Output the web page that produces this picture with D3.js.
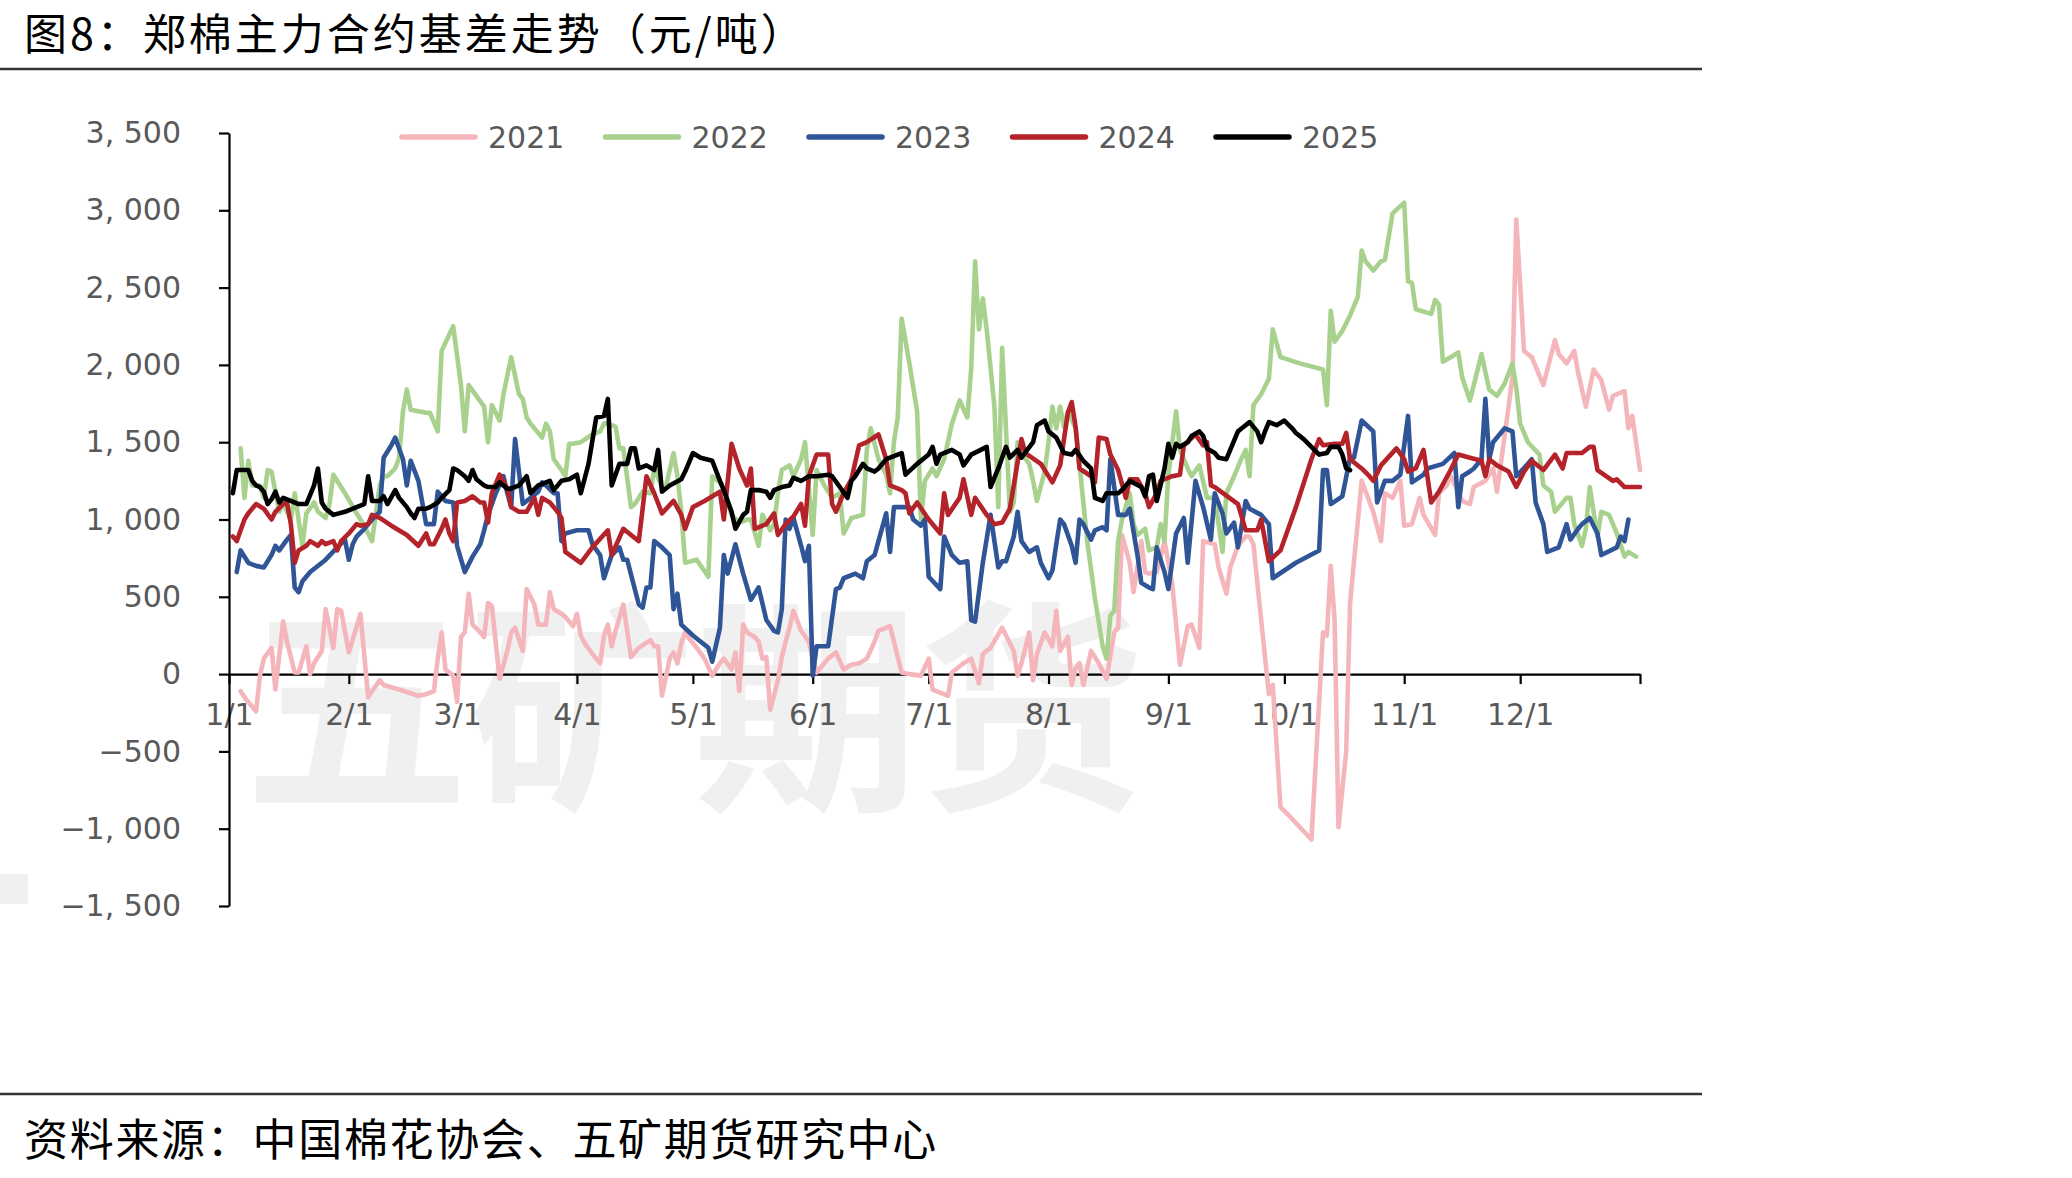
<!DOCTYPE html>
<html>
<head>
<meta charset="utf-8">
<script src="https://cdn.jsdelivr.net/npm/d3@7"></script>
<style>
  body { margin: 0; background: #fff; }
  svg { display: block; }
</style>
</head>
<body>
<svg id="chart" width="2072" height="1178"></svg>
<script>
// Texts
const titleText = "图8：郑棉主力合约基差走势（元/吨）";
const sourceText = "资料来源：中国棉花协会、五矿期货研究中心";
const watermarkText = "五矿期货";

// Axis ticks
const yTicks = [-1500, -1000, -500, 0, 500, 1000, 1500, 2000, 2500, 3000, 3500];
const monthLabels = ["1/1", "2/1", "3/1", "4/1", "5/1", "6/1", "7/1", "8/1", "9/1", "10/1", "11/1", "12/1"];

// Series: [day of year (0 = 1/1), basis in 元/吨]
const seriesNames = ["2021", "2022", "2023", "2024", "2025"];
const seriesColors = ["#f4b6bb", "#a9d18e", "#2f5597", "#b4232a", "#000000"];

const basis2021 = [[3,-110],[4,-150],[5,-180],[7,-240],[8,-10],[9,100],[11,170],[12,-100],[14,340],[15,210],[17,10],[18,10],[20,180],[21,0],[22,70],[24,150],[25,420],[27,170],[28,420],[29,410],[31,140],[34,390],[36,-150],[37,-110],[39,-40],[40,-70],[44,-100],[49,-140],[51,-130],[53,-110],[54,100],[55,270],[56,30],[58,-10],[59,-180],[60,240],[61,270],[62,520],[63,320],[65,270],[66,240],[67,460],[68,440],[70,-30],[72,150],[73,270],[74,300],[76,150],[77,550],[79,450],[80,320],[82,320],[83,530],[84,420],[86,390],[87,370],[89,310],[90,390],[91,250],[92,200],[94,130],[96,70],[97,250],[98,320],[99,180],[100,280],[102,450],[104,110],[106,170],[109,220],[110,180],[111,180],[112,-140],[114,100],[115,140],[116,70],[117,200],[118,270],[119,230],[121,170],[123,100],[125,-10],[127,70],[128,100],[130,30],[131,140],[132,-110],[133,320],[134,270],[136,240],[137,210],[138,100],[139,110],[140,-230],[142,-40],[143,110],[144,210],[145,300],[146,410],[148,280],[150,210],[152,10],[155,100],[157,140],[159,30],[161,60],[163,70],[165,100],[167,210],[168,280],[171,310],[174,10],[176,0],[179,-10],[181,100],[182,-100],[186,-140],[187,10],[190,70],[192,100],[194,-60],[195,130],[197,170],[200,300],[203,150],[204,-10],[205,70],[207,270],[208,-40],[209,130],[211,270],[213,180],[214,410],[215,150],[217,240],[218,-70],[219,40],[220,70],[221,-70],[223,150],[225,70],[227,-30],[229,270],[230,300],[231,900],[233,720],[234,530],[236,860],[237,660],[238,650],[240,660],[242,860],[244,580],[246,60],[248,310],[249,320],[251,170],[252,860],[255,840],[256,690],[258,520],[259,690],[261,830],[263,890],[264,890],[265,840],[267,350],[269,-130],[270,-70],[272,-860],[274,-910],[280,-1070],[283,270],[284,250],[285,700],[286,350],[287,-990],[289,-500],[290,460],[293,1250],[296,1050],[298,860],[299,1170],[301,1140],[303,1250],[304,960],[306,970],[308,1140],[309,1030],[312,900],[313,1170],[315,1220],[316,1280],[318,1180],[319,1120],[321,1100],[322,1210],[325,1250],[327,1330],[328,1180],[329,1360],[331,1730],[332,1920],[333,2940],[335,2090],[337,2050],[340,1870],[343,2160],[344,2070],[346,2010],[348,2090],[349,1950],[351,1730],[353,1970],[355,1900],[357,1710],[358,1800],[361,1830],[362,1590],[363,1670],[365,1320]];

const basis2022 = [[3,1460],[4,1140],[5,1380],[6,1220],[8,1220],[9,1140],[10,1320],[11,1310],[13,1050],[14,1110],[15,1050],[16,1000],[17,1170],[19,830],[20,1040],[22,1110],[23,1050],[25,1010],[26,1100],[27,1290],[30,1170],[33,1040],[35,960],[37,860],[39,1220],[40,1280],[41,1280],[43,1330],[44,1400],[45,1700],[46,1840],[47,1710],[49,1700],[51,1690],[52,1690],[54,1570],[55,2090],[58,2250],[60,1870],[61,1570],[62,1870],[64,1800],[66,1730],[67,1500],[68,1740],[70,1640],[71,1810],[73,2050],[75,1810],[76,1780],[77,1660],[78,1620],[80,1560],[81,1530],[82,1620],[83,1570],[84,1390],[86,1320],[87,1280],[88,1490],[89,1490],[91,1500],[94,1550],[96,1570],[97,1620],[98,1620],[100,1600],[101,1460],[102,1460],[104,1080],[105,1100],[107,1180],[109,1170],[110,1330],[112,1210],[113,1210],[115,1430],[116,1280],[117,1050],[118,720],[121,740],[124,630],[125,1280],[127,1240],[128,1190],[130,1030],[132,980],[134,1000],[135,1000],[137,830],[138,1030],[140,930],[141,970],[142,1170],[143,1320],[145,1350],[146,1280],[148,1390],[149,1500],[151,900],[152,1320],[154,1220],[156,1140],[158,1170],[159,910],[161,1010],[164,1030],[165,1450],[166,1590],[168,1390],[170,1290],[171,1170],[172,1500],[173,1660],[174,2300],[176,2010],[178,1700],[179,1000],[180,1250],[182,1330],[183,1280],[185,1390],[187,1620],[189,1770],[191,1660],[192,1980],[193,2670],[194,2230],[195,2430],[196,2230],[198,1730],[199,1080],[200,2110],[202,1050],[203,1110],[204,1500],[205,1430],[207,1360],[208,1250],[209,1120],[211,1310],[212,1500],[213,1730],[214,1590],[215,1730],[216,1600],[217,1700],[219,1590],[220,1360],[222,860],[224,490],[226,180],[227,100],[228,380],[229,410],[230,860],[231,1000],[233,1170],[234,970],[235,900],[237,940],[238,800],[240,820],[241,970],[242,860],[243,1290],[245,1700],[246,1450],[248,1330],[249,1280],[251,1350],[253,1140],[255,1140],[256,970],[257,790],[258,1170],[260,1280],[262,1400],[263,1450],[264,1280],[265,1740],[267,1810],[269,1910],[270,2230],[272,2050],[277,2010],[283,1970],[284,1740],[285,2350],[286,2150],[288,2220],[290,2320],[292,2440],[293,2740],[294,2670],[296,2610],[298,2670],[299,2680],[301,2980],[304,3050],[305,2540],[306,2530],[307,2360],[311,2330],[312,2420],[313,2390],[314,2020],[316,2050],[318,2080],[319,1920],[321,1770],[324,2070],[326,1840],[328,1800],[330,1880],[332,2010],[333,1850],[334,1620],[336,1500],[339,1420],[340,1220],[342,1180],[343,1050],[346,1140],[347,1140],[348,970],[350,830],[351,940],[352,1210],[354,890],[355,1050],[357,1030],[359,910],[361,760],[362,790],[364,760]];

const basis2023 = [[2,660],[3,800],[5,720],[7,700],[9,690],[11,770],[12,830],[13,800],[15,870],[16,900],[17,560],[18,530],[19,600],[21,660],[25,740],[28,820],[30,870],[31,740],[32,840],[33,890],[35,940],[37,1000],[39,1050],[40,1400],[42,1480],[43,1530],[45,1390],[46,1220],[47,1380],[49,1250],[51,970],[53,970],[54,1180],[56,1120],[58,1110],[59,830],[61,660],[63,760],[65,840],[66,930],[67,1030],[69,1170],[71,1280],[72,1170],[73,1080],[74,1520],[76,1100],[77,1120],[80,1180],[81,1240],[82,1220],[84,1170],[85,1170],[86,860],[87,910],[90,930],[93,930],[94,840],[96,770],[97,620],[99,770],[101,820],[102,740],[103,740],[106,450],[107,430],[108,560],[109,560],[110,860],[112,820],[114,770],[115,420],[116,520],[117,320],[120,250],[124,170],[125,80],[127,300],[128,770],[129,650],[131,840],[133,650],[135,480],[137,560],[139,350],[141,280],[142,270],[143,420],[144,1000],[145,940],[146,1010],[148,830],[149,730],[150,830],[151,-10],[152,180],[155,180],[157,550],[158,560],[159,620],[162,650],[164,620],[165,730],[167,770],[168,860],[170,1040],[171,790],[172,1080],[176,1080],[177,1000],[179,960],[180,1000],[181,630],[184,550],[185,890],[187,770],[189,720],[191,730],[192,350],[193,340],[195,720],[197,1030],[199,690],[200,730],[201,730],[203,890],[204,1050],[205,860],[207,790],[209,820],[210,720],[212,620],[213,670],[214,840],[215,1000],[216,970],[218,830],[219,720],[220,1000],[221,970],[223,870],[224,930],[226,950],[227,930],[228,1390],[230,1030],[232,1030],[233,1070],[235,770],[236,590],[238,560],[239,550],[240,820],[242,660],[243,550],[245,910],[247,1010],[248,720],[250,1250],[252,1080],[254,870],[255,1170],[257,1040],[258,910],[260,980],[261,820],[263,1120],[264,1070],[267,1030],[269,970],[270,620],[276,720],[282,800],[283,1320],[284,1320],[285,1100],[288,1150],[290,1400],[291,1400],[293,1640],[296,1570],[297,1110],[299,1250],[301,1250],[303,1290],[305,1670],[306,1240],[309,1290],[310,1330],[314,1360],[317,1430],[318,1080],[319,1280],[321,1310],[322,1330],[324,1390],[325,1780],[326,1390],[327,1500],[330,1590],[332,1570],[333,1280],[336,1360],[337,1390],[338,1110],[340,970],[341,790],[344,820],[346,970],[347,870],[349,940],[350,970],[352,1010],[354,910],[355,770],[359,820],[360,890],[361,860],[362,1000]];

const basis2024 = [[1,890],[2,860],[4,1000],[5,1040],[7,1100],[9,1070],[11,1000],[12,1050],[14,1100],[15,1110],[16,970],[17,720],[18,800],[20,830],[21,860],[23,830],[24,860],[25,840],[27,860],[28,800],[29,860],[31,910],[33,970],[34,960],[36,970],[37,1030],[39,1010],[42,960],[46,900],[49,830],[51,910],[52,840],[53,840],[55,940],[56,1000],[57,910],[58,860],[59,1110],[61,1120],[63,1150],[65,1110],[66,1110],[67,980],[68,1170],[70,1290],[72,1200],[73,1080],[75,1050],[77,1050],[79,1140],[80,1030],[81,1140],[83,1110],[85,1050],[86,1010],[87,790],[91,720],[94,820],[98,930],[99,770],[102,940],[104,900],[106,860],[108,1280],[110,1170],[112,1040],[115,1120],[117,1030],[118,940],[120,1080],[123,1120],[127,1180],[128,1000],[130,1490],[132,1330],[134,1220],[135,1330],[136,940],[139,970],[141,1040],[142,900],[144,970],[146,1020],[148,1100],[149,960],[150,1280],[152,1420],[155,1420],[156,1100],[157,1050],[159,1170],[161,1260],[163,1480],[165,1500],[168,1550],[170,1390],[171,1220],[174,1190],[175,1170],[176,1040],[178,1110],[181,1000],[184,910],[185,1170],[186,1030],[189,1140],[190,1260],[192,1030],[193,1140],[196,1030],[198,970],[200,980],[202,1070],[203,1220],[205,1520],[206,1430],[210,1360],[213,1240],[215,1350],[217,1690],[218,1760],[219,1600],[220,1330],[223,1280],[224,1240],[225,1530],[227,1520],[228,1420],[230,1320],[232,1140],[233,1260],[235,1260],[237,1170],[238,1080],[240,1170],[241,1250],[244,1280],[246,1290],[247,1480],[250,1550],[252,1480],[253,1500],[254,1220],[255,1210],[261,1100],[263,930],[266,930],[267,1000],[269,730],[272,800],[276,1080],[280,1390],[282,1520],[283,1480],[286,1490],[288,1490],[289,1560],[290,1390],[293,1330],[295,1280],[296,1250],[298,1350],[302,1460],[304,1390],[305,1310],[307,1330],[309,1450],[311,1110],[313,1180],[316,1320],[318,1420],[321,1400],[324,1380],[325,1280],[326,1390],[328,1350],[331,1310],[333,1210],[335,1310],[337,1380],[340,1320],[343,1420],[345,1330],[346,1430],[350,1430],[352,1470],[353,1470],[354,1320],[358,1250],[359,1260],[361,1210],[365,1210]];

const basis2025 = [[1,1170],[2,1320],[5,1320],[6,1250],[7,1220],[8,1210],[9,1180],[10,1100],[11,1130],[12,1180],[13,1110],[14,1140],[16,1120],[17,1110],[18,1100],[20,1100],[21,1160],[22,1220],[23,1330],[24,1110],[25,1070],[27,1030],[30,1050],[33,1080],[35,1100],[36,1280],[37,1120],[39,1120],[40,1150],[41,1100],[43,1190],[44,1140],[46,1080],[47,1040],[48,1010],[49,1070],[51,1070],[52,1080],[54,1110],[55,1140],[57,1190],[58,1330],[59,1320],[61,1280],[62,1250],[63,1320],[64,1260],[66,1220],[67,1210],[69,1210],[70,1240],[72,1200],[73,1200],[75,1220],[77,1280],[78,1170],[80,1220],[83,1250],[84,1190],[86,1250],[88,1260],[90,1290],[91,1170],[93,1360],[95,1660],[97,1670],[98,1780],[99,1220],[101,1360],[103,1360],[104,1460],[105,1460],[106,1330],[108,1350],[110,1320],[111,1450],[112,1180],[114,1220],[117,1260],[118,1310],[120,1430],[122,1400],[125,1380],[127,1250],[128,1190],[130,1050],[131,940],[133,1030],[134,1050],[135,1190],[137,1190],[139,1180],[140,1140],[141,1190],[143,1210],[145,1220],[146,1270],[148,1250],[150,1280],[152,1280],[155,1290],[156,1280],[158,1210],[160,1140],[161,1250],[162,1280],[164,1360],[165,1330],[167,1310],[168,1330],[170,1390],[174,1430],[175,1290],[178,1360],[181,1420],[182,1470],[183,1360],[184,1420],[187,1450],[189,1420],[190,1350],[192,1420],[196,1470],[197,1210],[199,1330],[201,1470],[202,1400],[204,1450],[205,1400],[208,1500],[209,1610],[211,1640],[212,1570],[214,1530],[216,1430],[218,1420],[219,1450],[221,1380],[223,1330],[224,1140],[226,1120],[227,1170],[230,1170],[231,1190],[232,1220],[233,1250],[236,1210],[237,1150],[238,1280],[239,1290],[240,1120],[242,1330],[243,1490],[244,1400],[245,1490],[246,1470],[248,1500],[249,1540],[251,1570],[252,1540],[253,1460],[255,1430],[256,1400],[258,1390],[259,1450],[261,1570],[262,1590],[264,1630],[266,1570],[267,1500],[268,1570],[269,1630],[271,1610],[273,1640],[275,1590],[276,1560],[278,1520],[280,1470],[282,1420],[284,1430],[285,1470],[287,1470],[288,1420],[289,1330],[290,1320]];

const seriesData = [basis2021, basis2022, basis2023, basis2024, basis2025];

// ---- drawing ----
const svg = d3.select("#chart");
const axisFont = "'DejaVu Sans', sans-serif";
const cjkFont = "'Noto Sans CJK SC', 'Noto Sans', sans-serif";

const yearStart = new Date(2021, 0, 1);
const yearEnd = new Date(2022, 0, 1);
const toDate = d => d3.timeDay.offset(yearStart, d);

const x = d3.scaleTime().domain([yearStart, yearEnd]).range([229, 1640]);
const y = d3.scaleLinear().domain([-1500, 3500]).range([906, 133]);

// Watermark behind everything
svg.append("text")
  .attr("x", 694).attr("y", 793)
  .attr("text-anchor", "middle")
  .style("font-family", cjkFont)
  .style("font-weight", "bold")
  .style("font-size", "225px")
  .attr("fill", "#f0f0f0")
  .text(watermarkText);

svg.append("rect")
  .attr("x", 0).attr("y", 874).attr("width", 28).attr("height", 30)
  .attr("fill", "#efefef");

// Title and source with rules
svg.append("text")
  .attr("x", 24).attr("y", 50)
  .style("font-family", cjkFont)
  .style("font-size", "43px")
  .style("letter-spacing", "3px")
  .attr("fill", "#000")
  .text(titleText);

svg.append("line")
  .attr("x1", 0).attr("x2", 1702).attr("y1", 69).attr("y2", 69)
  .attr("stroke", "#333").attr("stroke-width", 2.5);

svg.append("line")
  .attr("x1", 0).attr("x2", 1702).attr("y1", 1094).attr("y2", 1094)
  .attr("stroke", "#333").attr("stroke-width", 2.5);

svg.append("text")
  .attr("x", 24).attr("y", 1156)
  .style("font-family", cjkFont)
  .style("font-size", "44px")
  .style("letter-spacing", "1.7px")
  .attr("fill", "#000")
  .text(sourceText);

// Axes
const yAxis = d3.axisLeft(y)
  .tickValues(yTicks)
  .tickSize(10)
  .tickSizeOuter(0)
  .tickPadding(38)
  .tickFormat(v => d3.format(",")(v).replace(",", ", "));

const monthDates = d3.timeMonth.range(yearStart, d3.timeDay.offset(yearEnd, 1));
const xAxis = d3.axisBottom(x)
  .tickValues(monthDates)
  .tickSize(10)
  .tickSizeOuter(0)
  .tickPadding(20)
  .tickFormat((d, i) => i < monthLabels.length ? monthLabels[i] : "");

function styleAxis(g) {
  g.attr("font-family", axisFont).attr("font-size", 30);
  g.select(".domain").attr("stroke", "#000").attr("stroke-width", 2.2);
  g.selectAll(".tick line").attr("stroke", "#000").attr("stroke-width", 2.2);
  g.selectAll(".tick text").attr("fill", "#595959");
}

svg.append("g")
  .attr("transform", `translate(0,${y(0)})`)
  .call(xAxis)
  .call(styleAxis);

svg.append("g")
  .attr("transform", `translate(${x(yearStart)},0)`)
  .call(yAxis)
  .call(styleAxis);

// Lines
const line = d3.line()
  .x(d => x(toDate(d[0])))
  .y(d => y(d[1]));

svg.append("g").selectAll("path")
  .data(seriesData)
  .join("path")
  .attr("d", line)
  .attr("fill", "none")
  .attr("stroke", (d, i) => seriesColors[i])
  .attr("stroke-width", 4.6)
  .attr("stroke-linejoin", "round")
  .attr("stroke-linecap", "round");

// Legend
const legend = svg.append("g").attr("transform", "translate(399,137)");
const item = legend.selectAll("g")
  .data(seriesNames)
  .join("g")
  .attr("transform", (d, i) => `translate(${i * 203.5},0)`);

item.append("line")
  .attr("x1", 3).attr("x2", 76)
  .attr("stroke", (d, i) => seriesColors[i])
  .attr("stroke-width", 5.5)
  .attr("stroke-linecap", "round");

item.append("text")
  .attr("x", 89).attr("dy", "0.36em")
  .style("font-family", axisFont)
  .style("font-size", "30px")
  .attr("fill", "#595959")
  .text(d => d);
</script>
</body>
</html>
